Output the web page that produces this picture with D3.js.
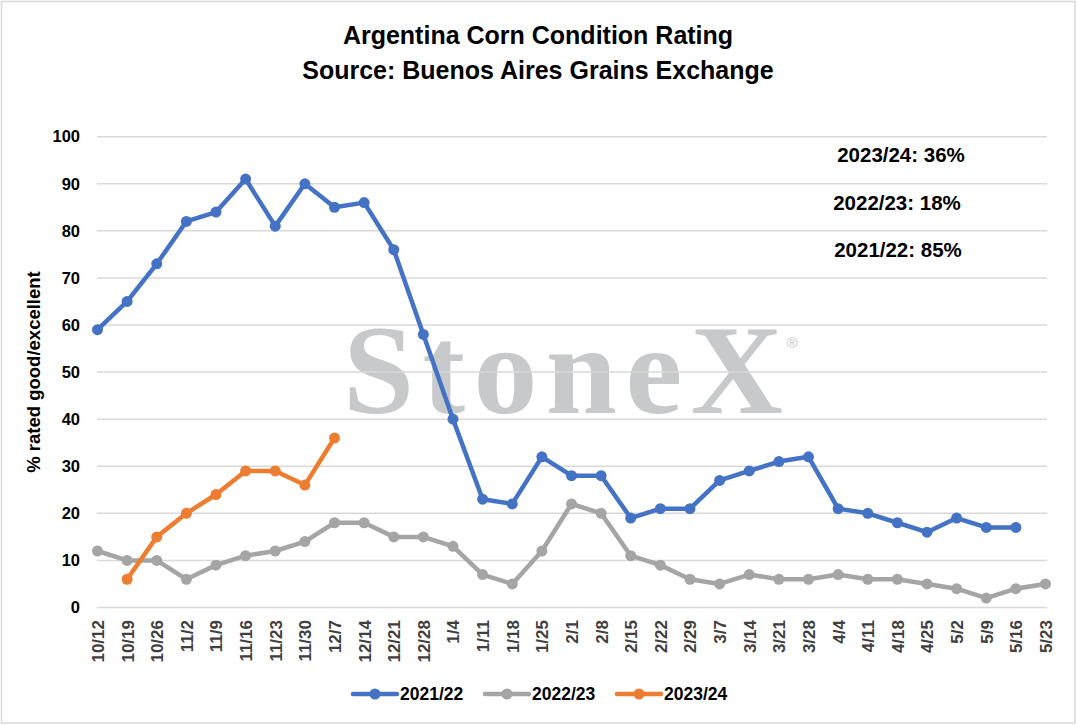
<!DOCTYPE html>
<html><head><meta charset="utf-8">
<script src="https://cdn.jsdelivr.net/npm/d3@7"></script>
<style>body{margin:0;background:#fff;} svg{display:block;}</style>
</head><body>
<script>
const categories = ["10/12","10/19","10/26","11/2","11/9","11/16","11/23","11/30","12/7","12/14","12/21","12/28","1/4","1/11","1/18","1/25","2/1","2/8","2/15","2/22","2/29","3/7","3/14","3/21","3/28","4/4","4/11","4/18","4/25","5/2","5/9","5/16","5/23"];
const s2122 = [59,65,73,82,84,91,81,90,85,86,76,58,40,23,22,32,28,28,19,21,21,27,29,31,32,21,20,18,16,19,17,17,null];
const s2223 = [12,10,10,6,9,11,12,14,18,18,15,15,13,7,5,12,22,20,11,9,6,5,7,6,6,7,6,6,5,4,2,4,5];
const s2324 = [null,6,15,20,24,29,29,26,36];
const yTicks = [0,10,20,30,40,50,60,70,80,90,100];
const seriesNames = ["2021/22","2022/23","2023/24"];
const seriesColors = ["#4472C4","#A5A5A5","#ED7D31"];
const annotations = ["2023/24: 36%","2022/23: 18%","2021/22: 85%"];

const W=1077,H=725;
const svg=d3.select("body").append("svg").attr("width",W).attr("height",H);
svg.append("rect").attr("x",1.5).attr("y",1.5).attr("width",W-3.5).attr("height",H-3.5).attr("fill","#fff").attr("stroke","#d9d9d9").attr("stroke-width",1.5);

const x=d3.scalePoint().domain(categories).range([97.5,1045.5]);
const y=d3.scaleLinear().domain([0,100]).range([607.5,136.7]);
const font="'Liberation Sans', Arial, sans-serif";

// title
svg.append("text").attr("x",538).attr("y",44).attr("text-anchor","middle").attr("font-family",font).attr("font-weight","bold").attr("font-size",25).attr("fill","#000").text("Argentina Corn Condition Rating");
svg.append("text").attr("x",538).attr("y",79).attr("text-anchor","middle").attr("font-family",font).attr("font-weight","bold").attr("font-size",25).attr("fill","#000").text("Source: Buenos Aires Grains Exchange");

// watermark
svg.append("text").attr("x",343).attr("y",413).attr("font-family","'Liberation Serif','Times New Roman',serif").attr("font-weight","bold").attr("font-size",128).attr("fill","#c8c9ca").attr("textLength",440).attr("lengthAdjust","spacing").text("StoneX");
svg.append("text").attr("x",792).attr("y",348).attr("text-anchor","middle").attr("font-family",font).attr("font-size",15).attr("fill","#c8c9ca").text("®");

// gridlines
svg.append("g").selectAll("line").data(yTicks).join("line")
  .attr("x1",97).attr("x2",1047).attr("y1",d=>y(d)).attr("y2",d=>y(d))
  .attr("stroke","#d9d9d9").attr("stroke-width",1.5);

// y axis
const yAxis=d3.axisLeft(y).tickValues(yTicks).tickSize(0).tickPadding(0);
const gy=svg.append("g").attr("transform","translate(80,0)").call(yAxis);
gy.select(".domain").remove();
gy.selectAll("text").attr("font-family",font).attr("font-weight","bold").attr("font-size",16.5).attr("fill","#000");

// x axis
const xAxis=d3.axisBottom(x).tickSize(0).tickPadding(0);
const gx=svg.append("g").attr("transform","translate(0,620)").call(xAxis);
gx.select(".domain").remove();
gx.selectAll("text").attr("font-family",font).attr("font-weight","bold").attr("font-size",17).attr("fill","#404040")
  .attr("transform","rotate(-90)").attr("text-anchor","end").attr("x",0).attr("y",0).attr("dy","0.35em");

// y title
svg.append("text").attr("transform","translate(40,372) rotate(-90)").attr("text-anchor","middle").attr("font-family",font).attr("font-weight","bold").attr("font-size",18.5).attr("fill","#000").text("% rated good/excellent");

// series
const allSeries=[s2122,s2223,s2324];
allSeries.forEach((vals,i)=>{
  const pts=vals.map((v,j)=>({c:categories[j],v})).filter(d=>d.v!==null);
  const line=d3.line().x(d=>x(d.c)).y(d=>y(d.v));
  svg.append("path").datum(pts).attr("d",line).attr("fill","none").attr("stroke",seriesColors[i]).attr("stroke-width",4.5).attr("stroke-linejoin","round").attr("stroke-linecap","round");
  svg.append("g").selectAll("circle").data(pts).join("circle").attr("cx",d=>x(d.c)).attr("cy",d=>y(d.v)).attr("r",5.5).attr("fill",seriesColors[i]);
});

// annotations
const annX=[901,897,898], annY=[162,210,257];
annotations.forEach((t,i)=>{
  svg.append("text").attr("x",annX[i]).attr("y",annY[i]).attr("text-anchor","middle").attr("font-family",font).attr("font-weight","bold").attr("font-size",20.5).attr("fill","#000").text(t);
});

// legend
const legX=[353,485,617];
seriesNames.forEach((n,i)=>{
  const g=svg.append("g").attr("transform",`translate(${legX[i]},694)`);
  g.append("line").attr("x1",0).attr("x2",44).attr("y1",0).attr("y2",0).attr("stroke",seriesColors[i]).attr("stroke-width",4.5).attr("stroke-linecap","round");
  g.append("circle").attr("cx",22).attr("cy",0).attr("r",5.5).attr("fill",seriesColors[i]);
  g.append("text").attr("x",47).attr("y",0).attr("dy","0.36em").attr("font-family",font).attr("font-weight","bold").attr("font-size",17.5).attr("fill","#000").text(n);
});
</script>
</body></html>
